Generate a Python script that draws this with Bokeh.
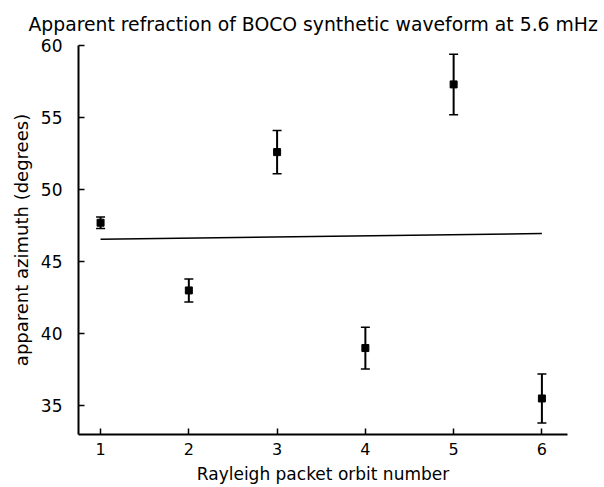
from bokeh.plotting import figure
from bokeh.models import ColumnDataSource, Range1d, Whisker, TeeHead, FixedTicker
from bokeh.embed import file_html
from bokeh.resources import INLINE

# Apparent azimuth per Rayleigh packet orbit, with error half-widths (degrees)
orbit = [1, 2, 3, 4, 5, 6]
azimuth = [47.7, 43.0, 52.6, 39.0, 57.3, 35.5]
error = [0.4, 0.8, 1.5, 1.45, 2.1, 1.7]

# Reference azimuth line across the orbits
ref_orbit = [1, 6]
ref_azimuth = [46.55, 46.95]

x_ticks = [1, 2, 3, 4, 5, 6]
y_ticks = [35, 40, 45, 50, 55, 60]

FONT = "DejaVu Sans"

src = ColumnDataSource(dict(
    x=orbit,
    y=azimuth,
    upper=[a + e for a, e in zip(azimuth, error)],
    lower=[a - e for a, e in zip(azimuth, error)],
))

p = figure(
    width=604, height=487,
    x_range=Range1d(0.75, 6.29), y_range=Range1d(33, 60),
    output_backend="svg", toolbar_location=None,
    min_border_left=78, min_border_right=37,
    min_border_top=45, min_border_bottom=53,
    title="Apparent refraction of BOCO synthetic waveform at 5.6 mHz",
)
p.outline_line_color = None
p.grid.visible = False
p.background_fill_color = "white"
p.border_fill_color = "white"

p.title.text_font = FONT
p.title.text_font_size = "18.8px"
p.title.text_font_style = "normal"
p.title.text_color = "black"
p.title.align = "left"
p.title.offset = -50
p.title.standoff = 22

for ax in (p.xaxis[0], p.yaxis[0]):
    ax.axis_line_width = 2
    ax.axis_line_color = "black"
    ax.major_tick_in = 6
    ax.major_tick_out = 0
    ax.major_tick_line_width = 1.5
    ax.minor_tick_line_color = None
    ax.major_label_text_font = FONT
    ax.major_label_text_color = "black"
    ax.axis_label_text_font = FONT
    ax.axis_label_text_font_style = "normal"
    ax.axis_label_text_color = "black"

p.xaxis.ticker = FixedTicker(ticks=x_ticks)
p.yaxis.ticker = FixedTicker(ticks=y_ticks)
p.xaxis.major_label_text_font_size = "16px"
p.yaxis.major_label_text_font_size = "17px"
p.xaxis.major_label_standoff = 8
p.yaxis.major_label_standoff = 16
p.xaxis.axis_label = "Rayleigh packet orbit number"
p.yaxis.axis_label = "apparent azimuth (degrees)"
p.xaxis.axis_label_text_font_size = "17px"
p.yaxis.axis_label_text_font_size = "18px"
p.xaxis.axis_label_standoff = 6
p.yaxis.axis_label_standoff = 6

p.line(ref_orbit, ref_azimuth, line_color="black", line_width=1.6)

p.add_layout(Whisker(
    base="x", upper="upper", lower="lower", source=src,
    line_color="black", line_width=2,
    upper_head=TeeHead(size=9, line_width=1.5, line_color="black"),
    lower_head=TeeHead(size=9, line_width=1.5, line_color="black"),
))
p.scatter("x", "y", source=src, marker="square", size=7,
          fill_color="black", line_color="black")

open("out.html", "w").write(file_html(p, INLINE))
